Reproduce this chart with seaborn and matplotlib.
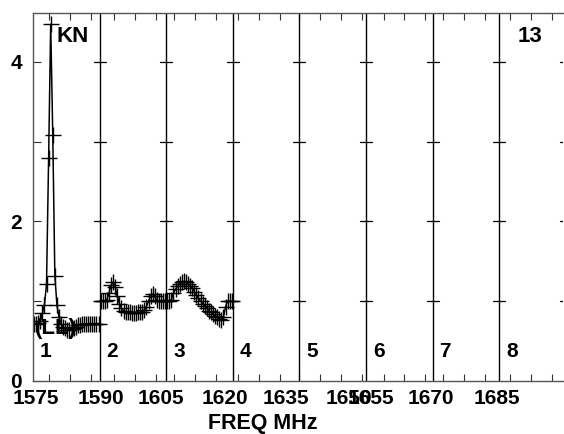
import matplotlib

matplotlib.use("Agg")

import matplotlib.pyplot as plt
import matplotlib.transforms as mtransforms
import numpy as np
import pandas as pd
import seaborn as sns


# IF start frequencies (MHz), bandwidth per IF
IF_START_MHZ = [1571.1, 1586.5, 1603.1, 1618.7, 1635.0, 1650.8, 1667.4, 1682.4]
IF_BW_MHZ = 16.0
IF_NUMBERS = ["1", "2", "3", "4", "5", "6", "7", "8"]

# amplitude per channel (32 channels), only IFs 1-3 have data
AMP_IF1 = [0.72, 0.72, 0.73, 0.75, 0.85, 0.95, 1.22, 2.79, 4.47, 3.08, 1.32, 0.95,
           0.80, 0.72, 0.68, 0.66, 0.64, 0.64, 0.65, 0.66, 0.68, 0.70, 0.70, 0.71,
           0.72, 0.71, 0.72, 0.72, 0.72, 0.72, 0.72, 0.72]
AMP_IF2 = [1.00, 1.00, 1.00, 1.02, 1.10, 1.20, 1.24, 1.18, 1.06, 0.97, 0.91, 0.88,
           0.87, 0.86, 0.86, 0.85, 0.85, 0.85, 0.86, 0.86, 0.87, 0.89, 0.93, 1.00,
           1.06, 1.09, 1.06, 1.01, 1.00, 1.00, 1.00, 1.00]
AMP_IF3 = [1.00, 1.00, 1.02, 1.10, 1.15, 1.19, 1.22, 1.24, 1.25, 1.24, 1.22, 1.19,
           1.16, 1.12, 1.08, 1.04, 1.00, 0.97, 0.94, 0.91, 0.88, 0.86, 0.84, 0.82,
           0.80, 0.78, 0.77, 0.80, 0.93, 1.00, 1.00, 1.00]

FREQ_LABELS = [1575, 1590, 1605, 1620, 1635, 1650, 1655, 1670, 1685]
Y_TICKS = [0, 1, 2, 3, 4]
Y_TICK_LABELS = ["0", "", "2", "", "4"]

FONT = ["Liberation Sans", "DejaVu Sans"]


def freq_to_x(f):
    # map a frequency to panel coordinates (one unit per IF)
    for k, start in enumerate(IF_START_MHZ):
        if start <= f < start + IF_BW_MHZ:
            return k + (f - start) / IF_BW_MHZ
    return np.nan


def main() -> None:
    sns.set_style("white")
    plt.rcParams["font.family"] = FONT
    plt.rcParams["font.weight"] = "bold"
    plt.rcParams["text.color"] = "black"
    plt.rcParams["xtick.color"] = "black"
    plt.rcParams["ytick.color"] = "black"

    rows = []
    for k, amps in enumerate([AMP_IF1, AMP_IF2, AMP_IF3]):
        n = len(amps)
        for i, a in enumerate(amps):
            rows.append({"IF": k + 1, "x": k + (i + 0.5) / n, "amp": a})
    df = pd.DataFrame(rows)

    fig = plt.figure(figsize=(5.64, 4.34), dpi=100)
    ax = fig.add_axes([33 / 564, 53 / 434, 529.5 / 564, 368 / 434])

    sns.lineplot(
        data=df, x="x", y="amp", units="IF", estimator=None, sort=False,
        color="black", linewidth=1.1, marker="+", markersize=11,
        markeredgecolor="black", markeredgewidth=1.0, ax=ax,
    )

    ax.set_xlim(0, 7.95)
    ax.set_ylim(0, 368 / 79.8)

    # IF boundaries with cross ticks
    for k in range(1, 9):
        ax.axvline(k, color="black", linewidth=1)
        for y in Y_TICKS[1:]:
            ax.plot([k - 0.09, k + 0.09], [y, y], color="black", linewidth=0.9)

    # x ticks: 5 MHz steps within each IF
    minor = []
    for k, start in enumerate(IF_START_MHZ):
        f = np.ceil(start / 5) * 5
        while f < start + IF_BW_MHZ:
            minor.append(k + (f - start) / IF_BW_MHZ)
            f += 5
    ax.set_xticks(minor, minor=True)
    ax.set_xticks([freq_to_x(f) for f in FREQ_LABELS], [str(f) for f in FREQ_LABELS])
    ax.tick_params(axis="x", which="both", direction="in", length=5, width=0.8,
                   top=True, bottom=True, color="#333333", labelsize=15,
                   labelcolor="black", pad=6)
    shift = mtransforms.ScaledTranslation(-13 / 100, 0, fig.dpi_scale_trans)
    for lab in ax.get_xticklabels():
        lab.set_transform(lab.get_transform() + shift)
        lab.set_fontweight("bold")

    ax.set_yticks(Y_TICKS, Y_TICK_LABELS)
    ax.tick_params(axis="y", direction="in", length=6, width=0.8, left=True,
                   color="#333333", labelsize=15, labelcolor="black", pad=8)
    for lab in ax.get_yticklabels():
        lab.set_fontweight("bold")

    for side in ["left", "bottom", "top"]:
        ax.spines[side].set_color("#555555")
        ax.spines[side].set_linewidth(1)
    ax.spines["right"].set_visible(False)

    ax.set_xlabel("")
    ax.set_ylabel("")

    trans = mtransforms.blended_transform_factory(ax.transData, ax.transAxes)
    for k, num in enumerate(IF_NUMBERS):
        ax.text(k + 0.105, 0.079, num, transform=trans, ha="left", va="center",
                fontsize=15, fontweight="bold", color="black")

    ax.text(0.045, 0.935, "KN", transform=ax.transAxes, ha="left", va="center",
            fontsize=16, fontweight="bold", color="black", zorder=5)
    ax.text(0.916, 0.935, "13", transform=ax.transAxes, ha="left", va="center",
            fontsize=16, fontweight="bold", color="black")
    ax.text(0.004, 0.144, "(LL)", transform=ax.transAxes, ha="left", va="center",
            fontsize=16, fontweight="bold", color="black", zorder=5)

    fig.text(263 / 564, 1 - 424 / 434, "FREQ MHz", ha="center", va="center",
             fontsize=15.5, fontweight="bold", color="black")

    fig.savefig("out.png", dpi=100)
    plt.close(fig)


if __name__ == "__main__":
    main()
